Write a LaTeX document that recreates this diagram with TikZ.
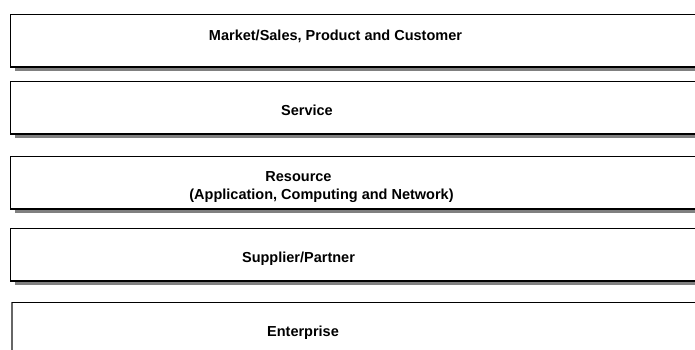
\documentclass[tikz,border=0pt]{standalone}
\usepackage{fontspec}
\setmainfont{Liberation Sans}
\begin{document}
\begin{tikzpicture}[x=1pt,y=-1pt,
  layerbox/.style={draw=black,line width=1.2pt,fill=white},
  shadowbar/.style={fill=black!50,draw=none},
  lbl/.style={font=\bfseries\fontsize{14.5}{17}\selectfont,inner sep=0pt,anchor=base}]
\useasboundingbox (0,0) rectangle (695,349);
\begin{scope}
\clip (0,0) rectangle (695,349);
% shadows
\fill[shadowbar] (15,67) rectangle (720,71);
\fill[shadowbar] (15,134) rectangle (720,138);
\fill[shadowbar] (15,209) rectangle (720,213);
\fill[shadowbar] (15,281) rectangle (720,285);
% boxes
\draw[layerbox] (10.5,14.5) rectangle (720,67);
\draw[layerbox] (10.5,81.5) rectangle (720,134);
\draw[layerbox] (10.5,156.5) rectangle (720,209);
\draw[layerbox] (10.5,228.5) rectangle (720,281);
\draw[layerbox,draw=black!60] (12,302.5) rectangle (720,360);
\draw[line width=1pt] (12,302.5) -- (720,302.5);
\end{scope}
\node[lbl] (mkt) at (335.5,40.7) {Market/Sales, Product and Customer};
\node[lbl] (svc) at (307,115) {Service};
\node[lbl] (res) at (298.5,181.7) {Resource};
\node[lbl] (resb) at (321.5,199) {(Application, Computing and Network)};
\node[lbl] (sup) at (298.5,262) {Supplier/Partner};
\node[lbl] (ent) at (303,336.7) {Enterprise};
\end{tikzpicture}
\end{document}
